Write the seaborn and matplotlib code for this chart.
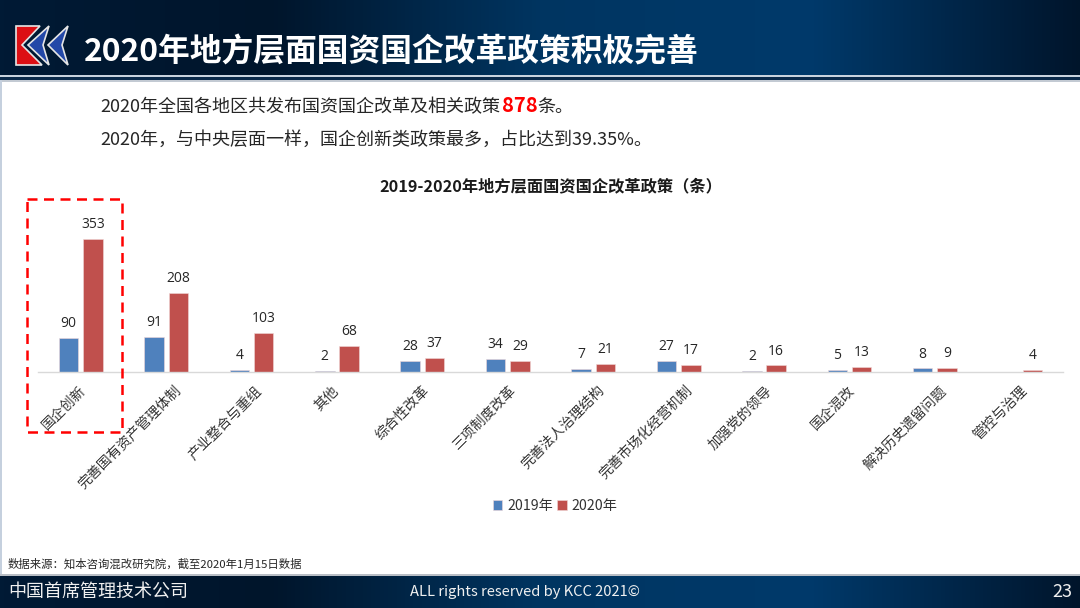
import matplotlib
matplotlib.use('Agg')
import matplotlib.pyplot as plt
from matplotlib.colors import LinearSegmentedColormap
from matplotlib.patches import Polygon, Rectangle
from matplotlib.transforms import ScaledTranslation
import numpy as np
import pandas as pd
import seaborn as sns

categories = ['国企创新', '完善国有资产管理体制', '产业整合与重组', '其他', '综合性改革', '三项制度改革',
              '完善法人治理结构', '完善市场化经营机制', '加强党的领导', '国企混改', '解决历史遗留问题', '管控与治理']
values_2019 = [90, 91, 4, 2, 28, 34, 7, 27, 2, 5, 8, np.nan]
values_2020 = [353, 208, 103, 68, 37, 29, 21, 17, 16, 13, 9, 4]

sns.set_theme(style='white')
plt.rcParams['font.family'] = ['Noto Sans CJK SC', 'DejaVu Sans']

W, H = 1080, 608
fig = plt.figure(figsize=(W / 100, H / 100), dpi=100, facecolor='white')

# slide background, in pixel coordinates
bg = fig.add_axes([0, 0, 1, 1], zorder=0)
bg.axis('off')

band = LinearSegmentedColormap.from_list('band', ['#001a35', '#00152b', '#003561', '#003a6b', '#00152b'])
grad = np.linspace(0, 1, 256).reshape(1, -1)
bg.imshow(grad, cmap=band, extent=(0, W, 75, 0), aspect='auto')
bg.imshow(grad, cmap=band, extent=(0, W, H, 576), aspect='auto')
bg.set_xlim(0, W)
bg.set_ylim(H, 0)
bg.add_patch(Rectangle((0, 75), W, 2, color='#c9d3de', lw=0))
bg.add_patch(Rectangle((0, 77), W, 3, color='#0b2a4a', lw=0))
bg.add_patch(Rectangle((0, 80), W, 1.5, color='#c3cad3', lw=0))
bg.add_patch(Rectangle((0, 574), W, 2, color='#b9bec5', lw=0))
bg.add_patch(Rectangle((0, 80), 1.6, 494, color='#c5d0de', lw=0))

# logo
bg.add_patch(Polygon([(16, 26), (40, 26), (22, 45), (42, 65), (16, 65)], fc='#dc0f14', ec='#e6e6e6', lw=1.2))
bg.add_patch(Polygon([(49, 26), (28, 45), (49, 65), (43, 45)], fc='#2348a8', ec='#e6e6e6', lw=1.2))
bg.add_patch(Polygon([(68, 26), (48, 45), (68, 65), (62, 45)], fc='#2348a8', ec='#e6e6e6', lw=1.2))

bg.text(84, 52, '2020年地方层面国资国企改革政策积极完善', color='white', fontsize=22.9, fontweight='bold', va='center')

# intro lines, the red number sits right after the first part
renderer = fig.canvas.get_renderer()
first = bg.text(100, 112, '2020年全国各地区共发布国资国企改革及相关政策', color='#262626', fontsize=13, va='baseline')
x_num = bg.transData.inverted().transform(first.get_window_extent(renderer))[1][0]
num = bg.text(x_num + 2, 112, '878', color='#ff0000', fontsize=14.5, fontweight='bold', va='baseline')
x_end = bg.transData.inverted().transform(num.get_window_extent(renderer))[1][0]
bg.text(x_end, 112, '条。', color='#262626', fontsize=13, va='baseline')
bg.text(100, 145, '2020年，与中央层面一样，国企创新类政策最多，占比达到39.35%。', color='#262626', fontsize=13, va='baseline')

bg.text(551, 186, '2019-2020年地方层面国资国企改革政策（条）', color='#1a1a1a', fontsize=11.7, fontweight='bold',
        ha='center', va='center')
bg.text(8, 564, '数据来源：知本咨询混改研究院，截至2020年1月15日数据', color='#262626', fontsize=8.2, va='center')
bg.text(8, 592, '中国首席管理技术公司', color='#f0f0f0', fontsize=13, va='center')
bg.text(525, 592, 'ALL rights reserved by KCC 2021©', color='#f0f0f0', fontsize=10.6, ha='center', va='center')
bg.text(1072, 592, '23', color='#f0f0f0', fontsize=13, ha='right', va='center')

# chart
df = pd.DataFrame({'类别': categories * 2,
                   '年份': ['2019年'] * 12 + ['2020年'] * 12,
                   '数量': values_2019 + values_2020})

left, right, top, bottom = 38, 1063, 200, 371.5
ax = fig.add_axes([left / W, 1 - bottom / H, (right - left) / W, (bottom - top) / H], zorder=1)
ax.patch.set_alpha(0)
sns.barplot(data=df, x='类别', y='数量', hue='年份', order=categories, hue_order=['2019年', '2020年'],
            palette=['#4f81bd', '#c0504d'], width=0.57, gap=0.2, saturation=1, errorbar=None,
            edgecolor='#f0d8d8', linewidth=0.4, ax=ax)
ax.set_xlim(-0.5, 11.5)
ax.set_ylim(0, (bottom - top) / 0.3754)
ax.set_xlabel('')
ax.set_ylabel('')
ax.set_yticks([])
for side in ['top', 'left', 'right']:
    ax.spines[side].set_visible(False)
ax.spines['bottom'].set_color('#d9d9d9')
ax.spines['bottom'].set_linewidth(1)
ax.tick_params(axis='x', length=0, pad=8.5)
plt.setp(ax.get_xticklabels(), rotation=45, ha='right', rotation_mode='anchor', fontsize=10, color='#333333')

# longer labels sit further right in the original
for tick_label in ax.get_xticklabels():
    shift = (len(tick_label.get_text()) - 4) * 1.6 - 2
    tick_label.set_transform(tick_label.get_transform() + ScaledTranslation(shift / 100, 0, fig.dpi_scale_trans))

for bars in ax.containers:
    ax.bar_label(bars, fmt='%g', padding=5, fontsize=10, color='#262626', family=['Open Sans', 'DejaVu Sans'])

handles, labels = ax.get_legend_handles_labels()
ax.legend(handles, labels, loc='center', bbox_to_anchor=(555 / W, 1 - 506 / H), bbox_transform=fig.transFigure,
          ncol=2, frameon=False, fontsize=10.2, handlelength=0.7, handleheight=0.7, handletextpad=0.35,
          columnspacing=0.25, labelcolor='#333333')

# red dashed highlight box over the first group
over = fig.add_axes([0, 0, 1, 1], zorder=2)
over.set_xlim(0, W)
over.set_ylim(H, 0)
over.axis('off')
over.add_patch(Rectangle((27, 199), 95, 233, fill=False, ec='#ff0000', lw=1.8, ls=(0, (4, 2.6))))

fig.savefig('out.png', dpi=100)
